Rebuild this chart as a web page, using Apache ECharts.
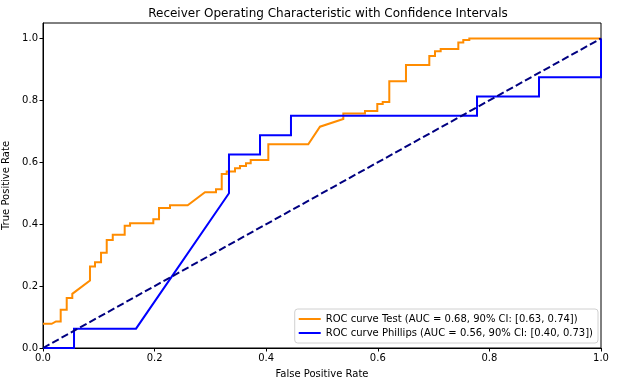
<!DOCTYPE html>
<html>
<head>
<meta charset="utf-8">
<script src="https://cdn.jsdelivr.net/npm/echarts@6/dist/echarts.min.js"></script>
<style>html,body{margin:0;padding:0;background:#fff}#c{width:617px;height:387px}</style>
</head>
<body>
<div id="c"></div>
<script>
const tickValues = [0, 0.2, 0.4, 0.6, 0.8, 1.0];
const testFpr = [0, 0.0156, 0.0233, 0.0317, 0.0317, 0.0425, 0.0425, 0.0525, 0.0525, 0.0842, 0.0842, 0.0932, 0.0932, 0.104, 0.104, 0.1142, 0.1142, 0.125, 0.125, 0.1464, 0.1464, 0.156, 0.156, 0.1977, 0.1977, 0.2079, 0.2079, 0.2276, 0.2276, 0.2593, 0.2903, 0.31, 0.31, 0.3203, 0.3203, 0.3292, 0.3292, 0.3441, 0.3441, 0.353, 0.353, 0.3638, 0.3638, 0.3722, 0.3722, 0.4038, 0.4038, 0.4754, 0.4964, 0.5382, 0.5382, 0.577, 0.577, 0.5991, 0.5991, 0.6088, 0.6088, 0.6206, 0.6206, 0.6505, 0.6505, 0.6923, 0.6923, 0.7025, 0.7025, 0.7127, 0.7127, 0.7443, 0.7443, 0.7532, 0.7532, 0.764, 0.764, 1.0];
const testTpr = [0.078, 0.078, 0.0858, 0.0858, 0.1235, 0.1235, 0.1613, 0.1613, 0.175, 0.218, 0.263, 0.263, 0.277, 0.277, 0.308, 0.308, 0.349, 0.349, 0.366, 0.366, 0.395, 0.395, 0.403, 0.403, 0.416, 0.416, 0.452, 0.452, 0.461, 0.461, 0.503, 0.503, 0.513, 0.513, 0.562, 0.562, 0.570, 0.570, 0.581, 0.581, 0.588, 0.588, 0.597, 0.597, 0.607, 0.607, 0.658, 0.658, 0.715, 0.740, 0.758, 0.758, 0.766, 0.766, 0.788, 0.788, 0.795, 0.795, 0.862, 0.862, 0.914, 0.914, 0.943, 0.943, 0.959, 0.959, 0.966, 0.966, 0.987, 0.987, 0.995, 0.995, 1.0, 1.0];
const phillipsFpr = [0, 0.0556, 0.0556, 0.1667, 0.3333, 0.3333, 0.3889, 0.3889, 0.4444, 0.4444, 0.7778, 0.7778, 0.8889, 0.8889, 1.0, 1.0];
const phillipsTpr = [0, 0, 0.0625, 0.0625, 0.5, 0.625, 0.625, 0.6875, 0.6875, 0.75, 0.75, 0.8125, 0.8125, 0.875, 0.875, 1.0];
const chanceFpr = [0, 1];
const chanceTpr = [0, 1];
const testName = 'ROC curve Test (AUC = 0.68, 90% CI: [0.63, 0.74])';
const phillipsName = 'ROC curve Phillips (AUC = 0.56, 90% CI: [0.40, 0.73])';

const zip = (a, b) => a.map((v, i) => [v, b[i]]);
const font = 'DejaVu Sans';
const orange = '#ff8c00', blue = '#0000ff', navy = '#000080';
const chart = echarts.init(document.getElementById('c'), null, {renderer: 'canvas'});
chart.setOption({
  animation: false,
  backgroundColor: '#ffffff',
  title: {
    text: 'Receiver Operating Characteristic with Confidence Intervals',
    left: 323, top: 3, textAlign: 'center',
    textStyle: {fontFamily: font, fontSize: 12, fontWeight: 'normal', color: '#000'}
  },
  grid: {left: 43, right: 16, top: 23, bottom: 39, containLabel: false, outerBoundsMode: 'none',
         show: true, borderColor: '#000', borderWidth: 1, backgroundColor: 'transparent'},
  legend: {
    data: [
      {name: testName, icon: 'rect', itemStyle: {color: orange, borderWidth: 0, borderColor: 'transparent'}},
      {name: phillipsName, icon: 'rect', itemStyle: {color: blue, borderWidth: 0, borderColor: 'transparent'}}
    ],
    orient: 'vertical', right: 19, bottom: 44,
    itemWidth: 22, itemHeight: 2, itemGap: 4, icon: 'rect',
    itemStyle: {borderWidth: 0},
    lineStyle: {width: 0},
    padding: [5, 5, 5, 4],
    borderColor: '#d0d0d0', borderWidth: 1, borderRadius: 3, backgroundColor: 'rgba(255,255,255,0.8)',
    textStyle: {fontFamily: font, fontSize: 10, color: '#000'}
  },
  xAxis: {
    type: 'value', min: 0, max: 1, interval: 0.2,
    name: 'False Positive Rate', nameLocation: 'middle', nameGap: 21,
    nameTextStyle: {fontFamily: font, fontSize: 10, color: '#000'},
    axisLine: {show: true, lineStyle: {color: '#000', width: 1}},
    axisTick: {show: true, length: 3.5, lineStyle: {color: '#000'}, customValues: tickValues},
    axisLabel: {fontFamily: font, fontSize: 10, color: '#000', margin: 5, customValues: tickValues, formatter: v => v.toFixed(1)},
    splitLine: {show: false}
  },
  yAxis: {
    type: 'value', min: 0, max: 1.05, interval: 0.2,
    name: 'True Positive Rate', nameLocation: 'middle', nameGap: 24,
    nameTextStyle: {fontFamily: font, fontSize: 10, color: '#000'},
    axisLine: {show: true, lineStyle: {color: '#000', width: 1}},
    axisTick: {show: true, length: 3.5, lineStyle: {color: '#000'}, customValues: tickValues},
    axisLabel: {fontFamily: font, fontSize: 10, color: '#000', margin: 5, customValues: tickValues, formatter: v => v.toFixed(1)},
    splitLine: {show: false}
  },
  series: [
    {name: testName, type: 'lines', coordinateSystem: 'cartesian2d', polyline: true,
     data: [{coords: zip(testFpr, testTpr)}],
     lineStyle: {color: orange, width: 2, opacity: 1}, itemStyle: {color: orange}},
    {name: phillipsName, type: 'lines', coordinateSystem: 'cartesian2d', polyline: true,
     data: [{coords: zip(phillipsFpr, phillipsTpr)}],
     lineStyle: {color: blue, width: 2, opacity: 1}, itemStyle: {color: blue}},
    {name: 'chance', type: 'line', data: zip(chanceFpr, chanceTpr), showSymbol: false, symbol: 'none',
     lineStyle: {color: navy, width: 2, type: [7.4, 3.2]}, itemStyle: {color: navy}, clip: false}
  ]
});
</script>
</body>
</html>
